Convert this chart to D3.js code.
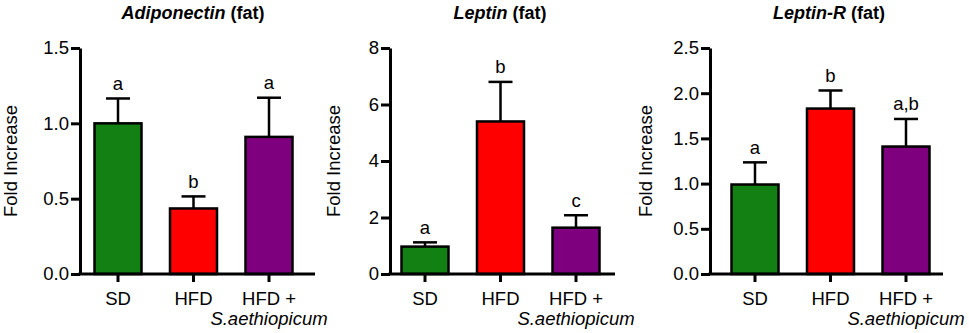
<!DOCTYPE html>
<html>
<head>
<meta charset="utf-8">
<script src="https://cdn.jsdelivr.net/npm/d3@7"></script>
<style>
  body { margin: 0; background: #fff; }
  svg { display: block; font-family: "Liberation Sans", Arial, sans-serif; }
  .domain { stroke: #000; stroke-width: 3px; }
  .tick line { stroke: #000; stroke-width: 3px; }
  .tick text { font-size: 18.5px; fill: #000; }
</style>
</head>
<body>
<div id="chart"></div>
<script>
// groups and colours
const groups = ["SD", "HFD", "HFD +"];
const groupColors = ["#138013", "#ff0000", "#7f007f"];

// gene names for each panel
const genes = ["Adiponectin", "Leptin", "Leptin-R"];

// means, error tops (mean + SEM) and letters
const adipoMean = [1.0, 0.435, 0.91];
const adipoErr  = [1.165, 0.515, 1.17];
const adipoSig  = ["a", "b", "a"];

const leptinMean = [0.97, 5.4, 1.64];
const leptinErr  = [1.12, 6.8, 2.08];
const leptinSig  = ["a", "b", "c"];

const lepRMean = [0.99, 1.83, 1.41];
const lepRErr  = [1.235, 2.03, 1.715];
const lepRSig  = ["a", "b", "a,b"];

// y ticks
const adipoTicks  = [0, 0.5, 1.0, 1.5];
const leptinTicks = [0, 2, 4, 6, 8];
const lepRTicks   = [0, 0.5, 1.0, 1.5, 2.0, 2.5];

const width = 969, height = 333;
const plotTop = 48, plotBottom = 274;

const svg = d3.select("#chart")
  .append("svg")
    .attr("width", width)
    .attr("height", height);

const panels = [
  {gene: genes[0], mean: adipoMean, err: adipoErr, sig: adipoSig, ticks: adipoTicks, fmt: d3.format(".1f"),
   axisX: 80, first: 38, axisEnd: 315, labelX: 17, titleX: 193},
  {gene: genes[1], mean: leptinMean, err: leptinErr, sig: leptinSig, ticks: leptinTicks, fmt: d3.format("d"),
   axisX: 390, first: 35, axisEnd: 615, labelX: 340, titleX: 500},
  {gene: genes[2], mean: lepRMean, err: lepRErr, sig: lepRSig, ticks: lepRTicks, fmt: d3.format(".1f"),
   axisX: 710, first: 45, axisEnd: 943, labelX: 652, titleX: 829}
];

panels.forEach(function(p) {
  const g = svg.append("g");

  const y = d3.scaleLinear()
    .domain([0, d3.max(p.ticks)])
    .range([plotBottom, plotTop]);

  const x = d3.scalePoint()
    .domain(groups)
    .range([p.axisX + p.first, p.axisX + p.first + 151]);

  const barW = 47;

  // bars
  g.selectAll(".bar")
    .data(groups)
    .enter()
    .append("rect")
      .attr("x", d => x(d) - barW / 2)
      .attr("y", (d, i) => y(p.mean[i]))
      .attr("width", barW)
      .attr("height", (d, i) => y(0) - y(p.mean[i]))
      .attr("fill", (d, i) => groupColors[i])
      .attr("stroke", "#000")
      .attr("stroke-width", 2.5);

  // error bars (upper only)
  g.selectAll(".errv")
    .data(groups)
    .enter()
    .append("line")
      .attr("x1", d => x(d))
      .attr("x2", d => x(d))
      .attr("y1", (d, i) => y(p.mean[i]))
      .attr("y2", (d, i) => y(p.err[i]))
      .attr("stroke", "#000")
      .attr("stroke-width", 2.5);
  g.selectAll(".errh")
    .data(groups)
    .enter()
    .append("line")
      .attr("x1", d => x(d) - 12)
      .attr("x2", d => x(d) + 12)
      .attr("y1", (d, i) => y(p.err[i]))
      .attr("y2", (d, i) => y(p.err[i]))
      .attr("stroke", "#000")
      .attr("stroke-width", 2.5);

  // significance letters
  g.selectAll(".sig")
    .data(groups)
    .enter()
    .append("text")
      .attr("x", d => x(d))
      .attr("y", (d, i) => y(p.err[i]) - 8.5)
      .attr("text-anchor", "middle")
      .style("font-size", "18.5px")
      .text((d, i) => p.sig[i]);

  // y axis
  g.append("g")
    .attr("transform", `translate(${p.axisX},0)`)
    .call(d3.axisLeft(y)
      .tickValues(p.ticks)
      .tickFormat(p.fmt)
      .tickSizeInner(9)
      .tickSizeOuter(0)
      .tickPadding(2));

  // x axis
  g.append("line")
    .attr("x1", p.axisX - 1.5)
    .attr("x2", p.axisEnd)
    .attr("y1", plotBottom)
    .attr("y2", plotBottom)
    .attr("stroke", "#000")
    .attr("stroke-width", 3);
  g.selectAll(".xt")
    .data(groups)
    .enter()
    .append("line")
      .attr("x1", d => x(d))
      .attr("x2", d => x(d))
      .attr("y1", plotBottom)
      .attr("y2", plotBottom + 8)
      .attr("stroke", "#000")
      .attr("stroke-width", 3);

  g.selectAll(".xl")
    .data(groups)
    .enter()
    .append("text")
      .attr("x", d => x(d))
      .attr("y", 305)
      .attr("text-anchor", "middle")
      .style("font-size", "18.5px")
      .text(d => d);
  // second line under "HFD +"
  g.append("text")
    .attr("x", x(groups[2]))
    .attr("y", 325)
    .attr("text-anchor", "middle")
    .style("font-size", "18.5px")
    .style("font-style", "italic")
    .text("S.aethiopicum");

  // y label
  g.append("text")
    .attr("transform", `translate(${p.labelX},${(plotTop + plotBottom) / 2}) rotate(-90)`)
    .attr("text-anchor", "middle")
    .style("font-size", "18.5px")
    .text("Fold Increase");

  // title
  const t = g.append("text")
    .attr("x", p.titleX)
    .attr("y", 19)
    .attr("text-anchor", "middle")
    .style("font-size", "18px")
    .style("font-weight", "bold");
  t.append("tspan").style("font-style", "italic").text(p.gene);
  t.append("tspan").text(" (fat)");
});
</script>
</body>
</html>
